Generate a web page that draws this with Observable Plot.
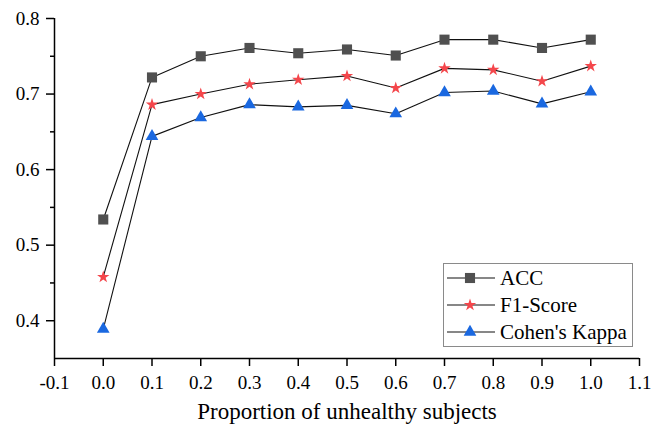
<!DOCTYPE html>
<html>
<head>
<meta charset="utf-8">
<script src="https://cdn.jsdelivr.net/npm/d3@7"></script>
<script src="https://cdn.jsdelivr.net/npm/@observablehq/plot@0.6"></script>
<style>
  html, body { margin: 0; padding: 0; background: #fff; }
  #chart svg { display: block; }
  #chart svg text, #chart svg g { font-family: 'Liberation Serif', 'Times New Roman', serif !important; }
  #chart svg g[aria-label$="tick label"], #chart svg g[aria-label$="tick label"] text { font-size: 19px !important; font-variant: normal !important; }
</style>
</head>
<body>
<div id="chart"></div>
<script>
// ---- data ----
const proportions = [0.0, 0.1, 0.2, 0.3, 0.4, 0.5, 0.6, 0.7, 0.8, 0.9, 1.0];
const accValues   = [0.534, 0.722, 0.750, 0.761, 0.754, 0.759, 0.751, 0.772, 0.772, 0.761, 0.772];
const f1Values    = [0.458, 0.686, 0.700, 0.713, 0.719, 0.724, 0.708, 0.734, 0.732, 0.717, 0.737];
const kappaValues = [0.389, 0.644, 0.669, 0.686, 0.683, 0.685, 0.674, 0.702, 0.704, 0.687, 0.703];
const seriesNames = ["ACC", "F1-Score", "Cohen's Kappa"];
const xTicks = [-0.1, 0.0, 0.1, 0.2, 0.3, 0.4, 0.5, 0.6, 0.7, 0.8, 0.9, 1.0, 1.1];
const yTicks = [0.4, 0.5, 0.6, 0.7, 0.8];
const yMinorTicks = [0.45, 0.55, 0.65, 0.75];
const xTitle = "Proportion of unhealthy subjects";

// ---- styles ----
const seriesColors  = ["#505050", "#f4464b", "#1a68e0"];
const seriesSymbols = ["square", "star", "triangle"];
const seriesR       = [5.7, 3.9, 4.7];
const d3Symbols     = [d3.symbolSquare, d3.symbolStar, d3.symbolTriangle];

const valueLists = [accValues, f1Values, kappaValues];
const rows = [];
seriesNames.forEach((name, s) => {
  proportions.forEach((p, i) => rows.push({series: name, s, x: p, y: valueLists[s][i]}));
});

const fmt = v => v.toFixed(1);
const font = "'Liberation Serif', 'Times New Roman', serif";

const marks = [
  Plot.ruleX([xTicks[0]], {y1: 0.35, y2: 0.8, stroke: "#000", strokeWidth: 1.5}),
  Plot.ruleY([0.35], {x1: xTicks[0], x2: xTicks[xTicks.length - 1], stroke: "#000", strokeWidth: 1.5}),
  Plot.axisX(xTicks, {tickSize: 8, tickPadding: 9, tickFormat: fmt, label: null, strokeWidth: 1.5, fontSize: 19, fontFamily: font}),
  Plot.axisY(yTicks, {tickSize: 8, tickPadding: 7, tickFormat: fmt, label: null, strokeWidth: 1.5, fontSize: 19, fontFamily: font}),
  Plot.axisY(yMinorTicks, {tickSize: 4, tickFormat: () => "", label: null, strokeWidth: 1.5}),
];
seriesNames.forEach((name, s) => {
  const d = rows.filter(r => r.s === s);
  marks.push(Plot.line(d, {x: "x", y: "y", stroke: "#111", strokeWidth: 1.1}));
});
seriesNames.forEach((name, s) => {
  const d = rows.filter(r => r.s === s);
  marks.push(Plot.dot(d, {x: "x", y: "y", symbol: () => seriesSymbols[s], r: seriesR[s], fill: seriesColors[s], stroke: "none"}));
});
marks.push(Plot.text([xTitle], {frameAnchor: "bottom", dy: 60, fontSize: 23, fontFamily: font, fill: "#000", text: d => d}));

const svg = Plot.plot({
  width: 662,
  height: 430,
  marginTop: 18,
  marginRight: 23,
  marginBottom: 72,
  marginLeft: 54,
  style: {fontFamily: font, fontSize: "19px", color: "#000", background: "#fff", overflow: "visible"},
  x: {domain: [xTicks[0], xTicks[xTicks.length - 1]], label: null},
  y: {domain: [0.35, 0.8], label: null},
  symbol: {domain: seriesSymbols, range: seriesSymbols},
  marks
});

// ---- legend ----
const g = d3.select(svg).append("g")
  .attr("font-family", font).attr("font-size", 21).attr("text-anchor", "start");
g.append("rect").attr("x", 443.5).attr("y", 263.5).attr("width", 189).attr("height", 83)
  .attr("fill", "#fff").attr("stroke", "#8a8a8a").attr("stroke-width", 1);
seriesNames.forEach((name, s) => {
  const cy = 278 + s * 27;
  g.append("line").attr("x1", 447).attr("x2", 495).attr("y1", cy).attr("y2", cy)
    .attr("stroke", "#111").attr("stroke-width", 1.1);
  g.append("path").attr("transform", `translate(470,${cy})`)
    .attr("d", d3.symbol(d3Symbols[s], Math.PI * seriesR[s] * seriesR[s])())
    .attr("fill", seriesColors[s]);
  g.append("text").attr("x", 500).attr("y", cy).attr("dy", "0.34em")
    .attr("text-anchor", "start").attr("fill", "#000").text(name);
});

document.getElementById("chart").appendChild(svg);
</script>
</body>
</html>
